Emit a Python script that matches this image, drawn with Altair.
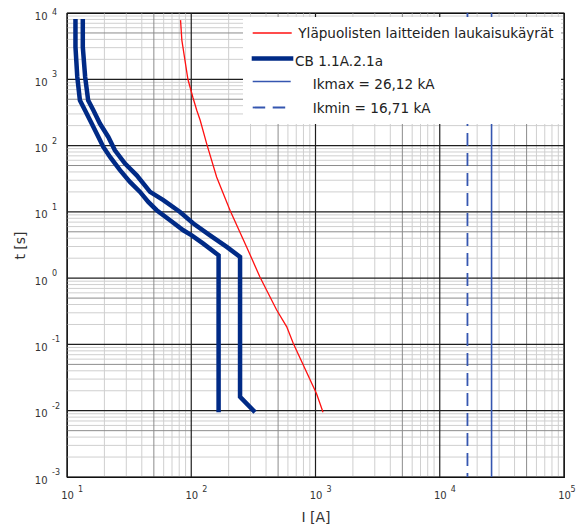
import math
import altair as alt
import pandas as pd

# ---------------- data ----------------
red_I = [82, 84, 94, 103, 110.7, 118, 133, 160, 205, 279, 357, 487, 587, 663, 1020, 1150]
red_t = [7800, 3900, 1000, 535, 341, 241, 107, 33.6, 10.6, 2.96, 1.04, 0.33, 0.184, 0.103, 0.018, 0.0095]

cb_min_I = [11.7, 11.7, 12.1, 12.7, 13.96, 15.8, 17.9, 19.6, 22.2, 26.7, 32.1, 38.7, 45.1, 52.7,
            67.5, 86.3, 100.8, 125, 166, 166]
cb_min_t = [8100, 3070, 1083, 482, 341, 215, 135, 95.3, 67.3, 42.5, 28.3, 20, 14.1, 10.6,
            7.46, 5.27, 4.43, 3.32, 2.21, 0.0095]

cb_max_I = [13.4, 13.4, 14.0, 14.8, 16.3, 18.4, 21.5, 24.3, 29.3, 36.4, 46.6, 59.6, 81.2, 104,
            141.6, 193, 247, 247, 326]
cb_max_t = [8100, 3070, 1083, 482, 341, 215, 135, 84.9, 53.5, 35.6, 20, 15, 9.97, 6.66,
            4.43, 2.96, 2.09, 0.0162, 0.0095]

ik_max = 26120
ik_min = 16710

legend_labels = [
    "Yläpuolisten laitteiden laukaisukäyrät",
    "CB 1.1A.2.1a",
    "Ikmax = 26,12 kA",
    "Ikmin = 16,71 kA",
]

x_decades = [10, 100, 1000, 10000, 100000]
y_decades = [0.001, 0.01, 0.1, 1, 10, 100, 1000, 10000]
minor_mult = [2, 3, 4, 6, 7, 8, 9]
mid_mult = [5]

# ---------------- tables ----------------
def grid_vals(decades, mults):
    return [d * m for d in decades[:-1] for m in mults]

def exps(decades):
    return [str(int(round(math.log10(v)))) for v in decades]

x_minor = pd.DataFrame({"I": grid_vals(x_decades, minor_mult)})
x_mid = pd.DataFrame({"I": grid_vals(x_decades, mid_mult)})
x_major = pd.DataFrame({"I": x_decades})
y_minor = pd.DataFrame({"t": grid_vals(y_decades, minor_mult)})
y_mid = pd.DataFrame({"t": grid_vals(y_decades, mid_mult)})
y_major = pd.DataFrame({"t": y_decades})
x_exp_inner = pd.DataFrame({"I": x_decades[:-1], "e": exps(x_decades[:-1])})
x_exp_last = pd.DataFrame({"I": x_decades[-1:], "e": exps(x_decades[-1:])})
y_exp_inner = pd.DataFrame({"t": y_decades[:-1], "e": exps(y_decades[:-1])})
y_exp_last = pd.DataFrame({"t": y_decades[-1:], "e": exps(y_decades[-1:])})

red_df = pd.DataFrame({"I": red_I, "t": red_t, "idx": range(len(red_I))})
cb_df = pd.concat([
    pd.DataFrame({"I": cb_min_I, "t": cb_min_t, "idx": range(len(cb_min_I)), "curve": "min"}),
    pd.DataFrame({"I": cb_max_I, "t": cb_max_t, "idx": range(len(cb_max_I)), "curve": "max"}),
])
ikmax_df = pd.DataFrame({"I": [ik_max]})
ikmin_df = pd.DataFrame({"I": [ik_min]})
dummy = pd.DataFrame({"a": [0]})

FONT = "DejaVu Sans"
NAVY = "#002a86"
IKBLUE = "#3556b0"
TXT = "#333333"
W, H = 497, 464

xs = alt.Scale(type="log", domain=[10, 100000], nice=False)
ys = alt.Scale(type="log", domain=[0.001, 10000], nice=False)

x_axis = alt.Axis(
    values=x_decades, labelExpr="'10'", grid=False, ticks=False, domain=False,
    labelFont=FONT, labelFontSize=10, labelColor=TXT, labelPadding=13,
    labelAlign="center", labelFlush=False,
    title="I [A]", titleFont=FONT, titleFontSize=14, titleFontWeight="normal",
    titleColor=TXT, titleBaseline="middle", titleY=40,
)
y_axis = alt.Axis(
    values=y_decades, labelExpr="'10'", grid=False, ticks=False, domain=False,
    labelFont=FONT, labelFontSize=10, labelColor=TXT, labelPadding=20,
    labelOffset=3, labelFlush=False,
    title="t [s]", titleFont=FONT, titleFontSize=14, titleFontWeight="normal",
    titleColor=TXT, titleBaseline="middle", titleAlign="center",
    titleX=-47, titleY=232, titleAngle=270,
)

X = lambda: alt.X("I:Q", scale=xs, axis=x_axis)
Y = lambda: alt.Y("t:Q", scale=ys, axis=y_axis)

def vrules(df, color, width, dash=None):
    kw = dict(color=color, strokeWidth=width)
    if dash:
        kw["strokeDash"] = dash
    return alt.Chart(df).mark_rule(**kw).encode(x=X())

def hrules(df, color, width):
    return alt.Chart(df).mark_rule(color=color, strokeWidth=width).encode(y=Y())

def x_exp_layer(df, dx):
    return alt.Chart(df).mark_text(align="left", baseline="middle", dx=dx, font=FONT,
                                   fontSize=8, color=TXT).encode(
        x=X(), y=alt.value(H + 12.5), text="e:N")

def y_exp_layer(df, dy):
    return alt.Chart(df).mark_text(align="left", baseline="middle", dy=dy, font=FONT,
                                   fontSize=8, color=TXT).encode(
        x=alt.value(-15), y=Y(), text="e:N")

layers = [
    vrules(x_minor, "#cfcfcf", 1),
    hrules(y_minor, "#cfcfcf", 1),
    vrules(x_mid, "#8c8c8c", 1),
    hrules(y_mid, "#8c8c8c", 1),
    vrules(x_major, "#1e1e1e", 1.2),
    hrules(y_major, "#1e1e1e", 1.2),
    vrules(ikmin_df, IKBLUE, 1.8, [13, 7]),
    vrules(ikmax_df, IKBLUE, 1.6),
    alt.Chart(cb_df).mark_line(color=NAVY, strokeWidth=4.5, strokeJoin="miter").encode(
        x=X(), y=Y(), detail="curve:N", order="idx:Q"),
    alt.Chart(red_df).mark_line(color="#ff1010", strokeWidth=1.3).encode(
        x=X(), y=Y(), order="idx:Q"),
    # exponents of the tick labels (10^n)
    x_exp_layer(x_exp_inner, 11),
    x_exp_layer(x_exp_last, 6.5),
    y_exp_layer(y_exp_inner, -4),
    y_exp_layer(y_exp_last, -0.5),
]

# ---------------- manual legend ----------------
layers.append(alt.Chart(dummy).mark_rect(color="white").encode(
    x=alt.value(176), x2=alt.value(494), y=alt.value(4), y2=alt.value(111)))

leg_lines = [
    dict(y=20, color="#ff1010", w=1.5, dash=None, x0=185.7, x1=224.7),
    dict(y=45.5, color=NAVY, w=4.5, dash=None, x0=184.7, x1=226.3),
    dict(y=68.5, color=IKBLUE, w=1.6, dash=None, x0=185.7, x1=223.7),
    dict(y=94.5, color=IKBLUE, w=1.8, dash=[12.5, 7.5], x0=185.7, x1=220),
]
leg_text_pos = [(231.3, 20.5), (228, 48.5), (245.7, 71.5), (245.7, 95.5)]

for ln, lab, (tx, ty) in zip(leg_lines, legend_labels, leg_text_pos):
    kw = dict(color=ln["color"], strokeWidth=ln["w"])
    if ln["dash"]:
        kw["strokeDash"] = ln["dash"]
    layers.append(alt.Chart(dummy).mark_rule(**kw).encode(
        x=alt.value(ln["x0"]), x2=alt.value(ln["x1"]), y=alt.value(ln["y"])))
    layers.append(alt.Chart(dummy).mark_text(
        align="left", baseline="middle", font=FONT, fontSize=13.6, color="#222").encode(
        x=alt.value(tx), y=alt.value(ty), text=alt.value(lab)))

chart = alt.layer(*layers).properties(
    width=W, height=H,
    autosize=alt.AutoSizeParams(type="none"),
    padding={"left": 59, "top": 5, "right": 12, "bottom": 50},
).configure_view(stroke="#000", strokeWidth=1.2)

chart.save("out.html", embed_options={"renderer": "svg", "actions": False})
